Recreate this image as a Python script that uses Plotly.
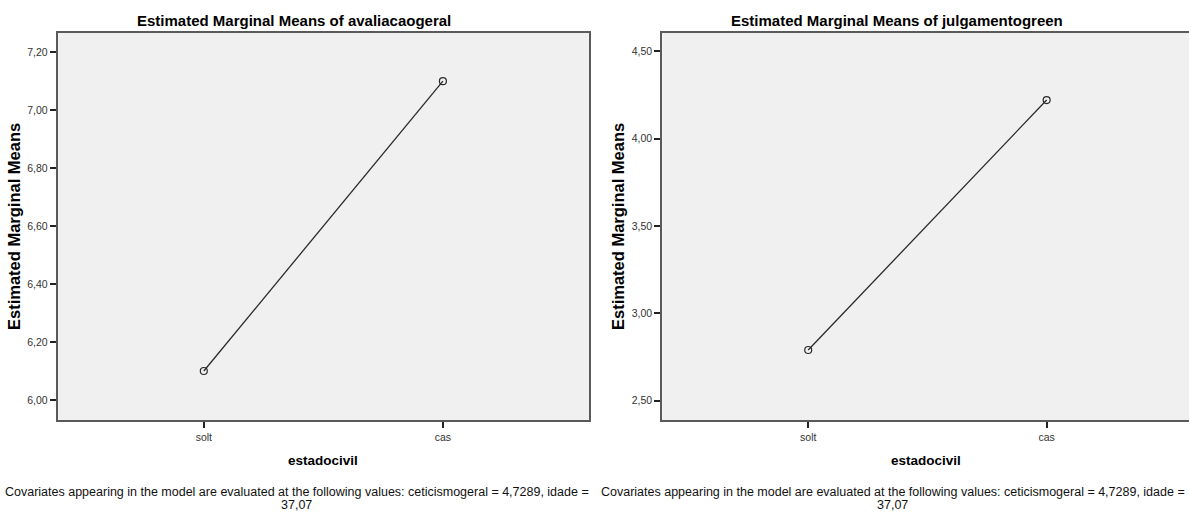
import plotly.graph_objects as go

# Estimated marginal means by marital status (estadocivil)
categories = ["solt", "cas"]
avaliacaogeral_means = [6.10, 7.10]
julgamentogreen_means = [2.79, 4.22]

avaliacao_ticks = [6.00, 6.20, 6.40, 6.60, 6.80, 7.00, 7.20]
julgamento_ticks = [2.50, 3.00, 3.50, 4.00, 4.50]

titles = ["Estimated Marginal Means of avaliacaogeral",
          "Estimated Marginal Means of julgamentogreen"]
y_title = "Estimated Marginal Means"
x_title = "estadocivil"
note_line1 = ("Covariates appearing in the model are evaluated at the following values: "
              "ceticismogeral = 4,7289, idade =")
note_line2 = "37,07"

W, H = 1189, 513
FONT = "Liberation Sans, Arial, sans-serif"
BORDER = "#5a5a5a"
LINE = "#2a2a2a"


def px(x):
    return x / W


def py(y):
    return (H - y) / H


fig = go.Figure()

fig.add_trace(go.Scatter(
    x=categories, y=avaliacaogeral_means, mode="lines+markers",
    line=dict(color=LINE, width=1.3),
    marker=dict(symbol="circle-open", size=7, color=LINE, line=dict(width=1.2)),
    xaxis="x", yaxis="y", showlegend=False, hoverinfo="x+y"))

fig.add_trace(go.Scatter(
    x=categories, y=julgamentogreen_means, mode="lines+markers",
    line=dict(color=LINE, width=1.3),
    marker=dict(symbol="circle-open", size=7, color=LINE, line=dict(width=1.2)),
    xaxis="x2", yaxis="y2", showlegend=False, hoverinfo="x+y"))

y_dom = [py(420), py(32.5)]

common_x = dict(
    type="category", showline=True, linecolor=BORDER, linewidth=2,
    ticks="outside", ticklen=6, tickwidth=1.5, tickcolor="#222222",
    tickfont=dict(family=FONT, size=10.5, color="#333333"),
    showgrid=False, zeroline=False, fixedrange=True,
)
common_y = dict(
    showline=True, linecolor=BORDER, linewidth=2,
    ticks="outside", ticklen=6, tickwidth=1.5, tickcolor="#222222",
    tickfont=dict(family=FONT, size=10.5, color="#333333"),
    tickformat=".2f", showgrid=False, zeroline=False, fixedrange=True,
)

fig.update_layout(
    width=W, height=H,
    margin=dict(l=0, r=0, t=0, b=0),
    paper_bgcolor="white",
    plot_bgcolor="#f0f0f0",
    separators=", ",
    xaxis=dict(common_x, domain=[px(57.7), px(589)], range=[-0.611, 1.611],
               anchor="y", mirror=True),
    yaxis=dict(common_y, domain=y_dom, range=[5.931, 7.268],
               tickvals=avaliacao_ticks, anchor="x", mirror=True),
    xaxis2=dict(common_x, domain=[px(662.3), 1.0], range=[-0.612, 1.597],
                anchor="y2", mirror=True),
    yaxis2=dict(common_y, domain=y_dom, range=[2.3896, 4.6064],
                tickvals=julgamento_ticks, anchor="x2", mirror=False),
)

annotations = []
panels = [
    dict(title_x=294, ytitle_x=14, xtitle_x=323.4, note_x=296.5),
    dict(title_x=897, ytitle_x=618, xtitle_x=925.6, note_x=892.5),
]
for title, p in zip(titles, panels):
    annotations.append(dict(
        text=title, x=px(p["title_x"]), y=py(20.7), xref="paper", yref="paper",
        xanchor="center", yanchor="middle", showarrow=False,
        font=dict(family=FONT, size=15, color="#000000", weight="bold")))
    annotations.append(dict(
        text=y_title, x=px(p["ytitle_x"]), y=py(227), xref="paper", yref="paper",
        xanchor="center", yanchor="middle", showarrow=False, textangle=-90,
        font=dict(family=FONT, size=16.5, color="#000000", weight="bold")))
    annotations.append(dict(
        text=x_title, x=px(p["xtitle_x"]), y=py(460.5), xref="paper", yref="paper",
        xanchor="center", yanchor="middle", showarrow=False,
        font=dict(family=FONT, size=13.5, color="#000000", weight="bold")))
    annotations.append(dict(
        text=note_line1, x=px(p["note_x"]), y=py(492), xref="paper", yref="paper",
        xanchor="center", yanchor="middle", showarrow=False,
        font=dict(family=FONT, size=12.5, color="#111111")))
    annotations.append(dict(
        text=note_line2, x=px(p["note_x"]), y=py(505), xref="paper", yref="paper",
        xanchor="center", yanchor="middle", showarrow=False,
        font=dict(family=FONT, size=12.5, color="#111111")))

fig.update_layout(annotations=annotations)

fig.write_html("out.html")
